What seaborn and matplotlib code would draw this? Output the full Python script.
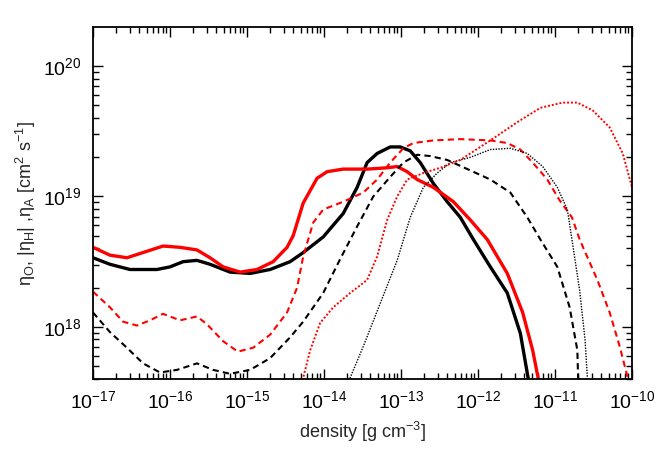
# Resistivity coefficients (eta_O, |eta_H|, eta_A) against density
import matplotlib
matplotlib.use("Agg")
import matplotlib.pyplot as plt
import numpy as np
import pandas as pd
import seaborn as sns

# values, as log10(density) / log10(eta)
bs_x = [-17.0, -16.78, -16.52, -16.17, -16.0, -15.83, -15.65, -15.48, -15.22, -14.96, -14.7,
        -14.44, -14.27, -14.01, -13.75, -13.57, -13.44, -13.31, -13.14, -13.01, -12.88, -12.75,
        -12.58, -12.4, -12.23, -12.06, -11.84, -11.62, -11.45, -11.35, -11.32]
bs_y = [18.53, 18.48, 18.44, 18.44, 18.46, 18.50, 18.51, 18.48, 18.42, 18.41, 18.44,
        18.50, 18.57, 18.69, 18.87, 19.07, 19.26, 19.33, 19.38, 19.38, 19.35, 19.26,
        19.10, 18.96, 18.84, 18.67, 18.46, 18.26, 17.95, 17.61, 17.5]

rs_x = [-17.0, -16.78, -16.56, -16.35, -16.09, -15.87, -15.65, -15.48, -15.31, -15.09, -14.87,
        -14.66, -14.48, -14.4, -14.27, -14.09, -13.96, -13.75, -13.44, -13.18, -13.05, -12.92,
        -12.79, -12.58, -12.32, -12.1, -11.88, -11.62, -11.42, -11.29, -11.22, -11.2]
rs_y = [18.61, 18.55, 18.53, 18.57, 18.62, 18.61, 18.59, 18.53, 18.46, 18.42, 18.44,
        18.50, 18.61, 18.70, 18.95, 19.14, 19.19, 19.21, 19.21, 19.22, 19.23, 19.19,
        19.13, 19.07, 18.96, 18.82, 18.67, 18.41, 18.11, 17.82, 17.61, 17.5]

bd_x = [-17.0, -16.78, -16.56, -16.35, -16.13, -15.91, -15.65, -15.44, -15.22, -14.96, -14.7,
        -14.44, -14.27, -14.01, -13.79, -13.57, -13.36, -13.14, -12.97, -12.79, -12.62, -12.4,
        -12.1, -11.84, -11.58, -11.36, -11.19, -10.97, -10.81, -10.71, -10.7, -10.69]
bd_y = [18.11, 17.96, 17.84, 17.72, 17.65, 17.67, 17.72, 17.67, 17.64, 17.67, 17.76,
        17.92, 18.04, 18.26, 18.52, 18.77, 19.00, 19.15, 19.26, 19.32, 19.31, 19.28,
        19.20, 19.13, 19.03, 18.84, 18.67, 18.46, 18.15, 17.82, 17.61, 17.5]

rd_x = [-17.0, -16.78, -16.61, -16.43, -16.26, -16.09, -15.87, -15.65, -15.52, -15.31, -15.12,
        -14.92, -14.7, -14.48, -14.35, -14.27, -14.14, -14.01, -13.75, -13.49, -13.31, -13.14,
        -12.97, -12.84, -12.58, -12.23, -11.84, -11.62, -11.45, -11.29, -11.1, -10.94, -10.78,
        -10.68, -10.45, -10.29, -10.16, -10.06, -10.04]
rd_y = [18.27, 18.15, 18.04, 18.01, 18.05, 18.10, 18.05, 18.08, 18.02, 17.89, 17.81,
        17.84, 17.94, 18.11, 18.30, 18.54, 18.80, 18.90, 18.96, 19.03, 19.13, 19.26,
        19.37, 19.41, 19.43, 19.44, 19.43, 19.41, 19.36, 19.26, 19.13, 18.97, 18.84,
        18.67, 18.36, 18.11, 17.85, 17.62, 17.5]

kdot_x = [-13.69, -13.66, -13.49, -13.27, -13.05, -12.88, -12.71, -12.53, -12.36, -12.1,
          -11.84, -11.58, -11.36, -11.16, -10.97, -10.84, -10.78, -10.68, -10.61, -10.58, -10.57]
kdot_y = [17.5, 17.61, 17.85, 18.18, 18.51, 18.84, 19.07, 19.18, 19.26, 19.30,
          19.36, 19.37, 19.33, 19.23, 19.07, 18.90, 18.67, 18.28, 17.90, 17.61, 17.5]

rdot_x = [-14.29, -14.27, -14.18, -14.05, -13.88, -13.66, -13.44, -13.31, -13.18, -13.05,
          -12.92, -12.71, -12.49, -12.23, -12.1, -11.84, -11.49, -11.19, -10.9, -10.71,
          -10.51, -10.29, -10.12, -10.0]
rdot_y = [17.5, 17.61, 17.82, 18.03, 18.15, 18.26, 18.36, 18.54, 18.82, 19.00,
          19.13, 19.18, 19.22, 19.28, 19.33, 19.43, 19.57, 19.68, 19.72, 19.72,
          19.66, 19.53, 19.33, 19.07]

x_decades = [1e-17, 1e-16, 1e-15, 1e-14, 1e-13, 1e-12, 1e-11, 1e-10]
y_decades = [1e18, 1e19, 1e20]

series = [
    (bs_x, bs_y, "black", "-", 2.4),
    (rs_x, rs_y, "red", "-", 2.4),
    (bd_x, bd_y, "black", (0, (3, 2)), 1.5),
    (rd_x, rd_y, "red", (0, (3, 2)), 1.5),
    (kdot_x, kdot_y, "black", (0, (1, 1)), 1.0),
    (rdot_x, rdot_y, "red", (0, (1, 1)), 1.4),
]

sns.set_style("ticks")
plt.rcParams["font.family"] = ["Liberation Sans", "DejaVu Sans"]
plt.rcParams["mathtext.fontset"] = "custom"
plt.rcParams["mathtext.rm"] = "Liberation Sans"
plt.rcParams["mathtext.it"] = "Liberation Sans:italic"
plt.rcParams["mathtext.default"] = "regular"

fig = plt.figure(figsize=(6.72, 4.71), dpi=100)
ax = fig.add_axes([0.1384, 0.1953, 0.8021, 0.7474])

for xs, ys, col, ls, lw in series:
    d = pd.DataFrame({"x": np.power(10.0, xs), "y": np.power(10.0, ys)})
    sns.lineplot(data=d, x="x", y="y", sort=False, color=col, ax=ax,
                 linestyle=ls, linewidth=lw, estimator=None)

ax.set_xscale("log")
ax.set_yscale("log")
ax.set_xlim(1e-17, 1e-10)
ax.set_ylim(10 ** 17.6, 10 ** 20.3)
ax.xaxis.set_major_locator(matplotlib.ticker.FixedLocator(x_decades))
ax.yaxis.set_major_locator(matplotlib.ticker.FixedLocator(y_decades))
ax.xaxis.set_minor_locator(matplotlib.ticker.LogLocator(base=10, subs=np.arange(2, 10), numticks=20))
ax.yaxis.set_minor_locator(matplotlib.ticker.LogLocator(base=10, subs=np.arange(2, 10), numticks=20))
ax.xaxis.set_minor_formatter(matplotlib.ticker.NullFormatter())
ax.yaxis.set_minor_formatter(matplotlib.ticker.NullFormatter())
ax.tick_params(which="both", direction="in", top=True, right=True, colors="black")
ax.tick_params(which="major", length=7, width=1, labelsize=14, pad=8)
ax.tick_params(which="minor", length=4, width=1)
for s in ax.spines.values():
    s.set_linewidth(1.3)
    s.set_color("black")

ax.set_xlabel(r"density [g cm$^{-3}$]", fontsize=13, labelpad=6)
ax.set_ylabel(r"$\eta_{O}$, $|\eta_{H}|$ ,$\eta_{A}$ [cm$^{2}$ s$^{-1}$]", fontsize=13, labelpad=4)

fig.savefig("out.png", dpi=100)
